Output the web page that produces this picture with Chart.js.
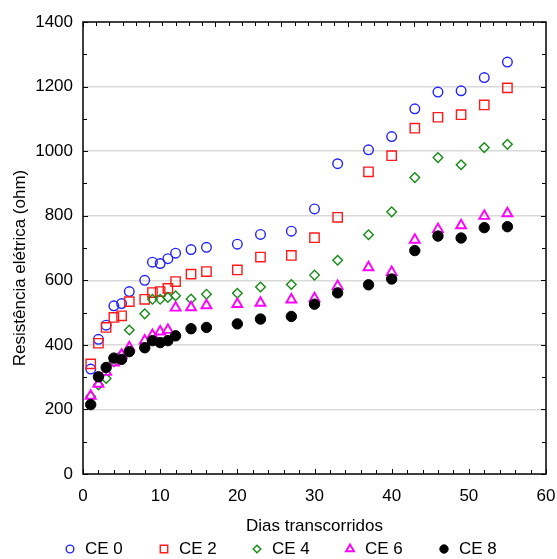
<!DOCTYPE html>
<html>
<head>
<meta charset="utf-8">
<script src="https://cdn.jsdelivr.net/npm/chart.js@4.4.1/dist/chart.umd.min.js"></script>
<style>
  body { margin: 0; background: #fff; }
  #wrap { width: 557px; height: 559px; }
</style>
</head>
<body>
<div id="wrap"><canvas id="myChart" width="557" height="559"></canvas></div>
<script>
const days = [1, 2, 3, 4, 5, 6, 8, 9, 10, 11, 12, 14, 16, 20, 23, 27, 30, 33, 37, 40, 43, 46, 49, 52, 55];
const ce0 = [325, 417, 461, 521, 528, 565, 600, 656, 652, 667, 684, 695, 702, 712, 742, 752, 821, 961, 1004, 1045, 1131, 1183, 1187, 1228, 1276];
const ce2 = [341, 405, 454, 485, 490, 534, 541, 562, 565, 575, 596, 619, 627, 632, 672, 677, 732, 795, 936, 986, 1071, 1105, 1113, 1143, 1196];
const ce4 = [240, 276, 296, 348, 370, 446, 496, 541, 541, 547, 552, 542, 557, 560, 579, 587, 616, 662, 741, 812, 918, 980, 958, 1011, 1021];
const ce6 = [242, 279, 316, 345, 369, 392, 413, 430, 441, 446, 515, 516, 522, 526, 530, 540, 544, 582, 640, 625, 725, 758, 770, 799, 807];
const ce8 = [215, 301, 330, 359, 355, 379, 391, 413, 407, 413, 428, 450, 454, 465, 480, 488, 526, 561, 586, 604, 692, 737, 731, 763, 766];
const seriesNames = ['CE 0', 'CE 2', 'CE 4', 'CE 6', 'CE 8'];

const FONT = "'Liberation Sans', Arial, sans-serif";
const pts = arr => arr.map((v, i) => ({x: days[i], y: v}));

// frame, inward ticks, y title and legend
const decor = {
    id: 'decor',
    afterDraw(chart) {
        const {ctx, chartArea: a} = chart;
        const x = chart.scales.x, y = chart.scales.y, x2 = chart.scales.x2;
        ctx.save();
        ctx.strokeStyle = '#000';
        ctx.lineWidth = 1;
        ctx.beginPath();
        for (let v = 0; v <= 60; v += 2) {
            const px = Math.round(x.getPixelForValue(v)) + 0.5;
            ctx.moveTo(px, a.bottom);
            ctx.lineTo(px, a.bottom - (v % 10 === 0 ? 5 : 4));
        }
        for (let v = 0; v <= 70; v += 2) {
            const px = Math.round(x2.getPixelForValue(v)) + 0.5;
            if (px > a.right) break;
            ctx.moveTo(px, a.top);
            ctx.lineTo(px, a.top + (v % 10 === 0 ? 5 : 4));
        }
        for (let v = 0; v <= 1400; v += 100) {
            const py = Math.round(y.getPixelForValue(v)) + 0.5;
            ctx.moveTo(a.left, py);
            ctx.lineTo(a.left + (v % 200 === 0 ? 5 : 4), py);
            ctx.moveTo(a.right, py);
            ctx.lineTo(a.right - (v % 200 === 0 ? 5 : 4), py);
        }
        ctx.stroke();
        ctx.lineWidth = 1.5;
        ctx.strokeRect(a.left, a.top, a.right - a.left, a.bottom - a.top);

        // y title
        ctx.fillStyle = '#000';
        ctx.font = '17px ' + FONT;
        ctx.textAlign = 'center';
        ctx.textBaseline = 'middle';
        ctx.translate(20, 268);
        ctx.rotate(-Math.PI / 2);
        ctx.fillText('Resistência elétrica (ohm)', 0, 0);
        ctx.setTransform(1, 0, 0, 1, 0, 0);

        // legend
        const legendX = [70, 164, 257, 350, 444];
        const legendY = 549;
        chart.data.datasets.forEach((ds, i) => {
            ctx.strokeStyle = ds.borderColor;
            ctx.fillStyle = ds.backgroundColor;
            ctx.lineWidth = ds.borderWidth;
            Chart.helpers.drawPoint(ctx, {
                pointStyle: ds.pointStyle,
                radius: ds.pointRadius * 0.8,
                borderWidth: ds.borderWidth,
                rotation: 0
            }, legendX[i], legendY);
            ctx.fillStyle = '#000';
            ctx.textAlign = 'left';
            ctx.textBaseline = 'middle';
            ctx.fillText(ds.label, legendX[i] + 15, legendY);
        });
        ctx.restore();
    }
};

const ctx = document.getElementById('myChart');

new Chart(ctx, {
    type: 'scatter',
    data: {
        datasets: [{
            label: seriesNames[0],
            data: pts(ce0),
            pointStyle: 'circle',
            pointRadius: 4.8,
            borderWidth: 1.4,
            borderColor: '#2222ff',
            backgroundColor: 'rgba(0,0,0,0)',
            order: 5
        }, {
            label: seriesNames[1],
            data: pts(ce2),
            pointStyle: 'rect',
            pointRadius: 6.6,
            borderWidth: 1.4,
            borderColor: '#ff1a1a',
            backgroundColor: 'rgba(0,0,0,0)',
            order: 4
        }, {
            label: seriesNames[2],
            data: pts(ce4),
            pointStyle: 'rectRot',
            pointRadius: 4.8,
            borderWidth: 1.4,
            borderColor: '#148c14',
            backgroundColor: 'rgba(0,0,0,0)',
            order: 3
        }, {
            label: seriesNames[3],
            data: pts(ce6),
            pointStyle: 'triangle',
            pointRadius: 5.7,
            borderWidth: 1.9,
            borderColor: '#ff00ff',
            backgroundColor: 'rgba(0,0,0,0)',
            order: 2
        }, {
            label: seriesNames[4],
            data: pts(ce8),
            pointStyle: 'circle',
            pointRadius: 5.2,
            borderWidth: 1,
            borderColor: '#000',
            backgroundColor: '#000',
            order: 1
        }]
    },
    options: {
        responsive: false,
        animation: false,
        devicePixelRatio: 1,
        layout: {
            padding: {top: 22, right: 11, left: 0, bottom: 22}
        },
        scales: {
            x: {
                type: 'linear',
                position: 'bottom',
                min: 0,
                max: 60,
                afterFit: scale => {
                    scale.height = 63;
                    scale.paddingLeft = 0;
                    scale.paddingRight = 0;
                },
                grid: { display: false },
                border: { display: false },
                ticks: {
                    stepSize: 10,
                    padding: 4,
                    color: '#000',
                    font: { size: 17, family: FONT }
                },
                title: {
                    display: true,
                    text: 'Dias transcorridos',
                    color: '#000',
                    padding: { top: 0, bottom: 0 },
                    font: { size: 17, family: FONT }
                }
            },
            x2: {
                type: 'linear',
                position: 'top',
                min: 0,
                max: 70,
                display: false
            },
            y: {
                min: 0,
                max: 1400,
                afterFit: scale => {
                    scale.width = 83;
                    scale.paddingTop = 0;
                    scale.paddingBottom = 0;
                },
                border: { display: false },
                grid: {
                    drawTicks: false,
                    lineWidth: 1.5,
                    color: c => (c.tick && (c.tick.value === 0 || c.tick.value === 1400)) ? 'rgba(0,0,0,0)' : '#d9d9d9'
                },
                ticks: {
                    stepSize: 200,
                    padding: 10,
                    color: '#000',
                    font: { size: 17, family: FONT },
                    callback: value => String(value)
                }
            }
        },
        plugins: {
            legend: { display: false },
            tooltip: { enabled: false }
        }
    },
    plugins: [decor]
});
</script>
</body>
</html>
